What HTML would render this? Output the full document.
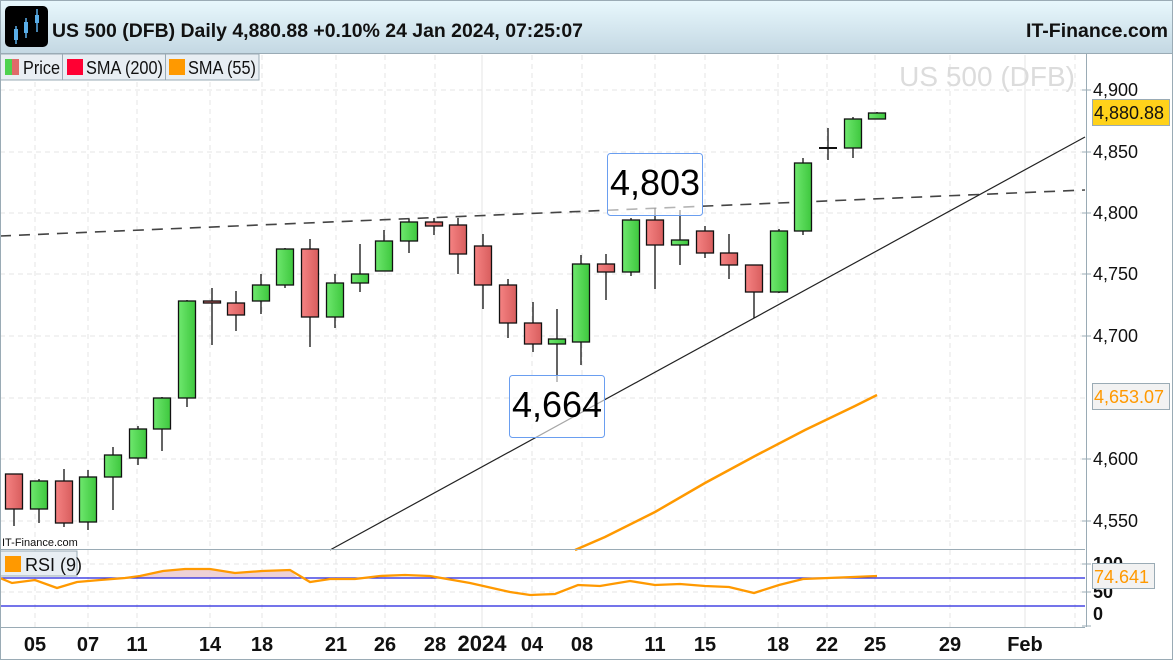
<!DOCTYPE html>
<html><head><meta charset="utf-8"><style>
html,body{margin:0;padding:0;background:#fff;}
body{width:1173px;height:660px;overflow:hidden;font-family:"Liberation Sans",Arial,sans-serif;}
</style></head><body>
<svg width="1173" height="660" viewBox="0 0 1173 660" xmlns="http://www.w3.org/2000/svg" font-family="Liberation Sans, Arial, sans-serif">
<defs>
<linearGradient id="hdr" x1="0" y1="0" x2="0" y2="1"><stop offset="0" stop-color="#e8f8fd"/><stop offset="1" stop-color="#c4d8e3"/></linearGradient>
<linearGradient id="gr" x1="0" y1="0" x2="1" y2="0"><stop offset="0" stop-color="#6ee86e"/><stop offset="1" stop-color="#3ec73e"/></linearGradient>
<linearGradient id="rd" x1="0" y1="0" x2="1" y2="0"><stop offset="0" stop-color="#f58282"/><stop offset="1" stop-color="#d85e5e"/></linearGradient>
</defs>
<rect x="0" y="0" width="1173" height="53" fill="url(#hdr)"/>
<line x1="0" y1="53.5" x2="1173" y2="53.5" stroke="#9aabb5"/>
<rect x="5" y="6" width="43" height="41" rx="5" fill="#000"/>
<g stroke="#5aaee8" stroke-width="1.5"><line x1="16" y1="26" x2="16" y2="44"/><line x1="26" y1="18" x2="26" y2="38"/><line x1="37" y1="9" x2="37" y2="32"/></g>
<rect x="14" y="29" width="4" height="11" fill="#5aaee8"/><rect x="24" y="22" width="4" height="11" fill="#5aaee8"/><rect x="35" y="15" width="4" height="8" fill="#5aaee8"/>
<text x="52" y="37" font-size="19.5" font-weight="bold" fill="#111" textLength="531" lengthAdjust="spacingAndGlyphs">US 500 (DFB) Daily 4,880.88 +0.10% 24 Jan 2024, 07:25:07</text>
<text x="1168" y="37" font-size="19.5" font-weight="bold" fill="#111" text-anchor="end">IT-Finance.com</text>

<!-- grid -->
<g stroke="#e4e4e4" stroke-dasharray="5,4">
<line x1="0" y1="90" x2="1085" y2="90"/><line x1="0" y1="152" x2="1085" y2="152"/><line x1="0" y1="213" x2="1085" y2="213"/><line x1="0" y1="274" x2="1085" y2="274"/><line x1="0" y1="336" x2="1085" y2="336"/><line x1="0" y1="398" x2="1085" y2="398"/><line x1="0" y1="459" x2="1085" y2="459"/><line x1="0" y1="521" x2="1085" y2="521"/>
<line x1="35" y1="55" x2="35" y2="627"/><line x1="88" y1="55" x2="88" y2="627"/><line x1="137" y1="55" x2="137" y2="627"/><line x1="210" y1="55" x2="210" y2="627"/><line x1="262" y1="55" x2="262" y2="627"/><line x1="336" y1="55" x2="336" y2="627"/><line x1="385" y1="55" x2="385" y2="627"/><line x1="435" y1="55" x2="435" y2="627"/><line x1="532" y1="55" x2="532" y2="627"/><line x1="582" y1="55" x2="582" y2="627"/><line x1="655" y1="55" x2="655" y2="627"/><line x1="705" y1="55" x2="705" y2="627"/><line x1="778" y1="55" x2="778" y2="627"/><line x1="827" y1="55" x2="827" y2="627"/><line x1="875" y1="55" x2="875" y2="627"/><line x1="950" y1="55" x2="950" y2="627"/><line x1="1075" y1="55" x2="1075" y2="627"/>
<line x1="0" y1="592" x2="1085" y2="592"/><line x1="0" y1="564" x2="1085" y2="564"/>
</g>
<g stroke="#e4e4e4"><line x1="482" y1="55" x2="482" y2="627"/><line x1="1025" y1="55" x2="1025" y2="627"/></g>

<text x="1075" y="86" font-size="28" fill="#dcdcdc" text-anchor="end">US 500 (DFB)</text>

<!-- legend -->
<rect x="0" y="54" width="259" height="26" fill="#e8eef3" stroke="#9aabb5"/>
<line x1="62.5" y1="54" x2="62.5" y2="80" stroke="#9aabb5"/><line x1="165.5" y1="54" x2="165.5" y2="80" stroke="#9aabb5"/>
<rect x="5" y="59" width="7" height="16" fill="#4fd24f"/><rect x="12" y="59" width="7" height="16" fill="#e06a6a"/>
<text x="23" y="74" font-size="18" fill="#111" textLength="37" lengthAdjust="spacingAndGlyphs">Price</text>
<rect x="67" y="59" width="16" height="16" fill="#ff0033"/><text x="86" y="74" font-size="18" fill="#111" textLength="77" lengthAdjust="spacingAndGlyphs">SMA (200)</text>
<rect x="169" y="59" width="16" height="16" fill="#ff9900"/><text x="188" y="74" font-size="18" fill="#111" textLength="68" lengthAdjust="spacingAndGlyphs">SMA (55)</text>

<!-- trend lines -->
<line x1="0" y1="236" x2="1085" y2="190" stroke="#444" stroke-width="1.6" stroke-dasharray="11,8"/>
<line x1="330" y1="550" x2="1085" y2="137" stroke="#222" stroke-width="1.2"/>
<polyline points="575,550 605,537 655,512 705,483 755,456 805,430 855,406 877,395" fill="none" stroke="#ff9900" stroke-width="2.5"/>

<!-- candles -->
<g stroke="#111" stroke-width="1.3">
<line x1="14" y1="474" x2="14" y2="526"/><rect x="5.5" y="474" width="17" height="35" fill="url(#rd)"/>
<line x1="39" y1="479" x2="39" y2="523"/><rect x="30.5" y="481" width="17" height="28" fill="url(#gr)"/>
<line x1="64" y1="469" x2="64" y2="527"/><rect x="55.5" y="481" width="17" height="42" fill="url(#rd)"/>
<line x1="88" y1="470" x2="88" y2="530"/><rect x="79.5" y="477" width="17" height="45" fill="url(#gr)"/>
<line x1="113" y1="447" x2="113" y2="510"/><rect x="104.5" y="455" width="17" height="22" fill="url(#gr)"/>
<line x1="138" y1="426" x2="138" y2="465"/><rect x="129.5" y="429" width="17" height="29" fill="url(#gr)"/>
<line x1="162" y1="397" x2="162" y2="451"/><rect x="153.5" y="398" width="17" height="31" fill="url(#gr)"/>
<line x1="187" y1="300" x2="187" y2="407"/><rect x="178.5" y="301" width="17" height="97" fill="url(#gr)"/>
<line x1="212" y1="288" x2="212" y2="345"/><rect x="203.5" y="301" width="17" height="2" fill="url(#rd)"/>
<line x1="236" y1="291" x2="236" y2="331"/><rect x="227.5" y="303" width="17" height="12" fill="url(#rd)"/>
<line x1="261" y1="274" x2="261" y2="314"/><rect x="252.5" y="285" width="17" height="16" fill="url(#gr)"/>
<line x1="285" y1="248" x2="285" y2="288"/><rect x="276.5" y="249" width="17" height="36" fill="url(#gr)"/>
<line x1="310" y1="239" x2="310" y2="347"/><rect x="301.5" y="249" width="17" height="68" fill="url(#rd)"/>
<line x1="335" y1="274" x2="335" y2="328"/><rect x="326.5" y="283" width="17" height="34" fill="url(#gr)"/>
<line x1="360" y1="244" x2="360" y2="292"/><rect x="351.5" y="274" width="17" height="9" fill="url(#gr)"/>
<line x1="384" y1="230" x2="384" y2="271"/><rect x="375.5" y="241" width="17" height="30" fill="url(#gr)"/>
<line x1="409" y1="219" x2="409" y2="253"/><rect x="400.5" y="222" width="17" height="19" fill="url(#gr)"/>
<line x1="434" y1="218" x2="434" y2="235"/><rect x="425.5" y="222" width="17" height="4" fill="url(#rd)"/>
<line x1="458" y1="218" x2="458" y2="274"/><rect x="449.5" y="225" width="17" height="29" fill="url(#rd)"/>
<line x1="483" y1="234" x2="483" y2="309"/><rect x="474.5" y="246" width="17" height="39" fill="url(#rd)"/>
<line x1="508" y1="279" x2="508" y2="338"/><rect x="499.5" y="285" width="17" height="38" fill="url(#rd)"/>
<line x1="533" y1="302" x2="533" y2="352"/><rect x="524.5" y="323" width="17" height="21" fill="url(#rd)"/>
<line x1="557" y1="309" x2="557" y2="382"/><rect x="548.5" y="339" width="17" height="5" fill="url(#gr)"/>
<line x1="581" y1="255" x2="581" y2="365"/><rect x="572.5" y="264" width="17" height="78" fill="url(#gr)"/>
<line x1="606" y1="254" x2="606" y2="300"/><rect x="597.5" y="264" width="17" height="8" fill="url(#rd)"/>
<line x1="631" y1="218" x2="631" y2="276"/><rect x="622.5" y="220" width="17" height="52" fill="url(#gr)"/>
<line x1="655" y1="208" x2="655" y2="289"/><rect x="646.5" y="220" width="17" height="25" fill="url(#rd)"/>
<line x1="680" y1="210" x2="680" y2="265"/><rect x="671.5" y="240" width="17" height="5" fill="url(#gr)"/>
<line x1="705" y1="226" x2="705" y2="258"/><rect x="696.5" y="231" width="17" height="22" fill="url(#rd)"/>
<line x1="729" y1="234" x2="729" y2="279"/><rect x="720.5" y="253" width="17" height="12" fill="url(#rd)"/>
<line x1="754" y1="265" x2="754" y2="318"/><rect x="745.5" y="265" width="17" height="27" fill="url(#rd)"/>
<line x1="779" y1="229" x2="779" y2="293"/><rect x="770.5" y="231" width="17" height="61" fill="url(#gr)"/>
<line x1="803" y1="158" x2="803" y2="235"/><rect x="794.5" y="163" width="17" height="68" fill="url(#gr)"/>
<line x1="828" y1="128" x2="828" y2="160"/><line x1="819" y1="148" x2="837" y2="148" stroke-width="2"/>
<line x1="853" y1="117" x2="853" y2="158"/><rect x="844.5" y="119" width="17" height="29" fill="url(#gr)"/>
<line x1="877" y1="112" x2="877" y2="119"/><rect x="868.5" y="113" width="17" height="6" fill="url(#gr)"/>
</g>

<!-- annotations -->
<rect x="607.5" y="153.5" width="95" height="62" rx="3" fill="#fff" fill-opacity="0.6" stroke="#6a9ef0"/>
<text x="655" y="195" font-size="36" fill="#000" text-anchor="middle">4,803</text>
<rect x="509.5" y="375.5" width="95" height="62" rx="3" fill="#fff" fill-opacity="0.6" stroke="#6a9ef0"/>
<text x="557" y="417" font-size="36" fill="#000" text-anchor="middle">4,664</text>

<text x="2" y="546" font-size="11" fill="#111">IT-Finance.com</text>

<!-- RSI panel -->
<line x1="0" y1="549.5" x2="1085" y2="549.5" stroke="#9aabb5"/>
<polygon points="125,578 140,576 163,571 185,569 210,569 235,573 262,571 290,570 298,578" fill="#e8c6cc" fill-opacity="0.8"/>
<line x1="0" y1="578" x2="1085" y2="578" stroke="#2222dd" stroke-width="1.3"/>
<line x1="0" y1="606" x2="1085" y2="606" stroke="#2222dd" stroke-width="1.3"/>
<polyline points="0,578 12,583 35,580 57,588 77,582 100,580 125,578 140,576 163,571 185,569 210,569 235,573 262,571 290,570 310,582 330,579 355,579 380,576 405,575 430,576 470,583 510,592 530,595 555,594 578,585 600,586 630,581 655,585 680,584 705,586 729,587 754,593 779,585 803,579 828,578 853,577 877,576" fill="none" stroke="#ff9900" stroke-width="2.3"/>
<rect x="0" y="551" width="77" height="25" fill="#e8eef3" stroke="#9aabb5"/>
<rect x="5" y="556" width="16" height="16" fill="#ff9900"/>
<text x="25" y="571" font-size="18" fill="#111">RSI (9)</text>
<line x1="0" y1="627.5" x2="1085" y2="627.5" stroke="#9aabb5"/>

<!-- right axis -->
<line x1="1086.5" y1="54" x2="1086.5" y2="627" stroke="#9aabb5"/>
<g stroke="#9aabb5"><line x1="1082" y1="90" x2="1091" y2="90"/><line x1="1082" y1="152" x2="1091" y2="152"/><line x1="1082" y1="213" x2="1091" y2="213"/><line x1="1082" y1="274" x2="1091" y2="274"/><line x1="1082" y1="336" x2="1091" y2="336"/><line x1="1082" y1="459" x2="1091" y2="459"/><line x1="1082" y1="521" x2="1091" y2="521"/><line x1="1082" y1="564" x2="1091" y2="564"/><line x1="1082" y1="592" x2="1091" y2="592"/><line x1="1082" y1="626" x2="1091" y2="626"/></g>
<g font-size="18" fill="#111">
<text x="1093" y="96">4,900</text><text x="1093" y="158">4,850</text><text x="1093" y="219">4,800</text><text x="1093" y="280">4,750</text><text x="1093" y="342">4,700</text><text x="1093" y="465">4,600</text><text x="1093" y="527">4,550</text>
<text x="1093" y="570" font-weight="bold">100</text><text x="1093" y="598" font-weight="bold">50</text><text x="1093" y="620" font-weight="bold">0</text>
</g>
<rect x="1092.5" y="99.5" width="77" height="26" fill="#ffd21a" stroke="#9aabb5"/>
<text x="1094" y="119" font-size="18" fill="#111">4,880.88</text>
<rect x="1092.5" y="383.5" width="77" height="26" fill="#f2f2f2" stroke="#9aabb5"/>
<text x="1094" y="403" font-size="18" fill="#ff9900">4,653.07</text>
<rect x="1092.5" y="563.5" width="62" height="25" fill="#f2f2f2" stroke="#9aabb5"/>
<text x="1094" y="583" font-size="18" fill="#ff9900">74.641</text>

<!-- bottom axis -->
<g font-size="20" font-weight="bold" fill="#111" text-anchor="middle">
<text x="35" y="651">05</text><text x="88" y="651">07</text><text x="137" y="651">11</text><text x="210" y="651">14</text><text x="262" y="651">18</text><text x="336" y="651">21</text><text x="385" y="651">26</text><text x="435" y="651">28</text><text x="482" y="651" font-size="22">2024</text><text x="532" y="651">04</text><text x="582" y="651">08</text><text x="655" y="651">11</text><text x="705" y="651">15</text><text x="778" y="651">18</text><text x="827" y="651">22</text><text x="875" y="651">25</text><text x="950" y="651">29</text><text x="1025" y="651">Feb</text>
</g>
<rect x="0.5" y="0.5" width="1172" height="659" fill="none" stroke="#9aabb5"/>
</svg>
</body></html>
